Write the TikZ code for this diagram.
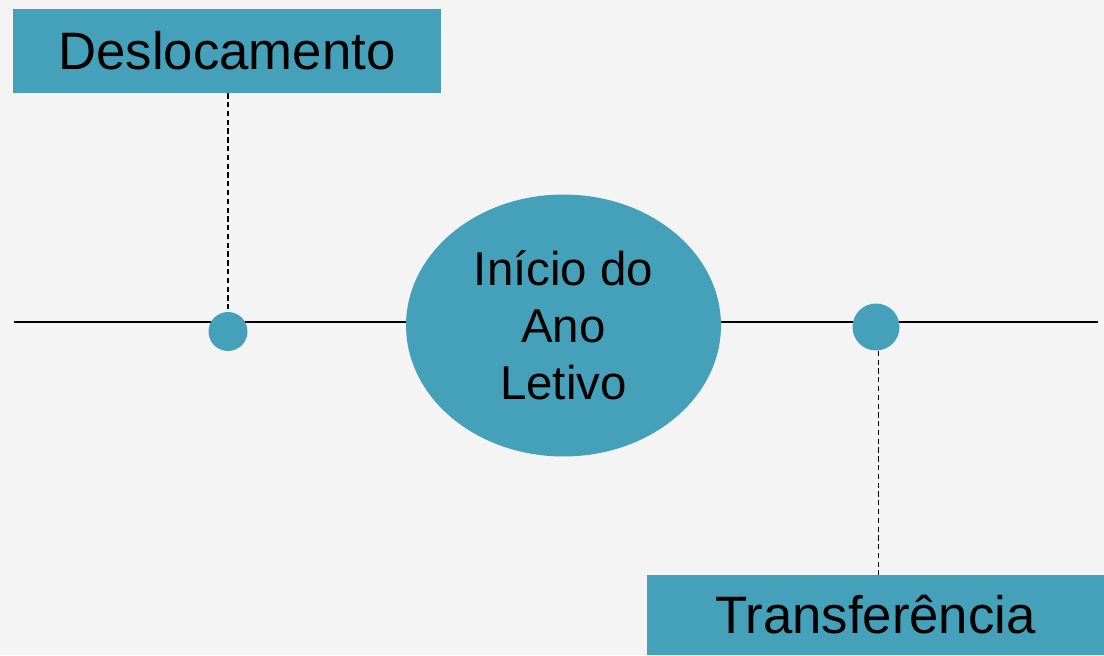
\documentclass[tikz,border=0pt]{standalone}
\usepackage{fontspec}
\setmainfont{Liberation Sans}
\usepackage{xcolor}
\usetikzlibrary{shapes.geometric}

\definecolor{tealbox}{HTML}{45A0B9}
\definecolor{paper}{HTML}{F4F4F4}

\begin{document}
\begin{tikzpicture}[>=latex,x=0.02cm,y=-0.02cm,
  labelbox/.style={fill=tealbox,inner sep=0pt,font=\fontsize{30}{36}\selectfont},
  eventdot/.style={circle,fill=tealbox,inner sep=0pt},
  leader/.style={densely dashed,dash pattern=on 3pt off 2pt,line width=0.75pt},
  ]

  % background / page size
  \fill[paper] (0,0) rectangle (1104,655);
  \useasboundingbox (0,0) rectangle (1104,655);

  \node[ellipse,fill=tealbox,inner sep=0pt,minimum width=6.3cm,minimum height=5.24cm,
    align=center,font=\fontsize{27}{32.4}\selectfont] (ano) at (563.5,325.5)
    {Início do\\ Ano\\ Letivo};

  \coordinate (lstart) at (14,322);
  \coordinate (lend) at (1098,322);
  \draw[line width=1.1pt] (lstart) -- (lstart -| ano.west);
  \draw[line width=1.1pt] (lend -| ano.east) -- (lend);

  \node[eventdot,minimum size=0.78cm] (dotL) at (228,331.5) {};
  \node[eventdot,minimum size=0.94cm] (dotR) at (876,327) {};

  \node[labelbox,minimum width=8.56cm,minimum height=1.68cm] (desl) at (227,51) {Deslocamento};
  \node[labelbox,minimum width=9.14cm,minimum height=1.6cm] (trans) at (875.5,615) {Transferência};

  \draw[leader] (desl.south -| dotL) -- (dotL.north);
  \draw[leader] ([xshift=0.05cm]dotR.south) -- ([xshift=0.05cm]dotR.south |- trans.north);

\end{tikzpicture}
\end{document}
